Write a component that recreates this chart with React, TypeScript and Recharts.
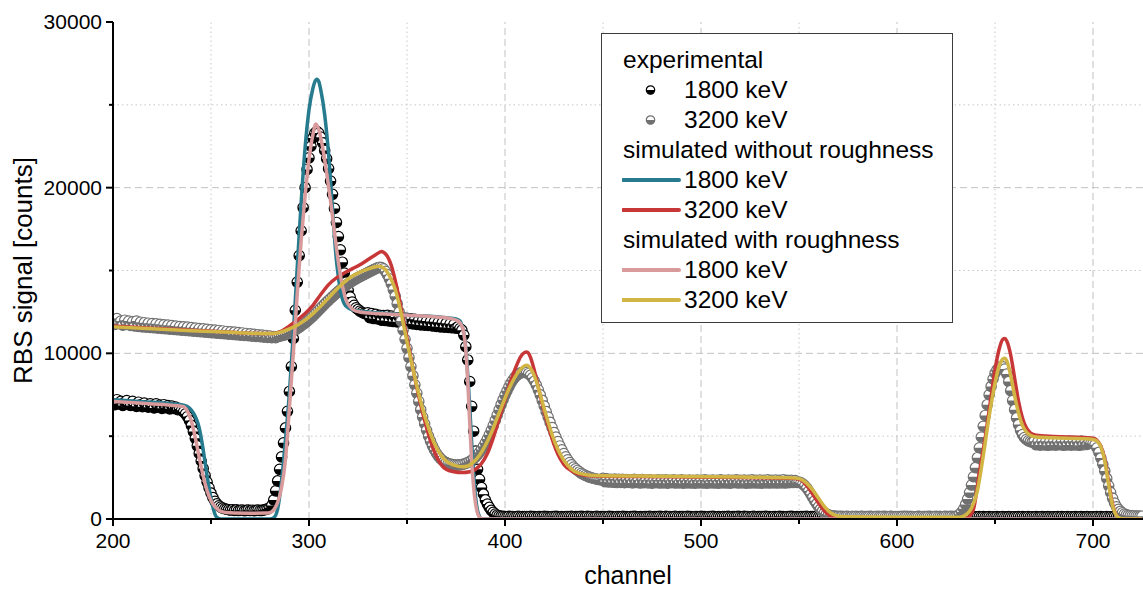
import { ComposedChart, Line, ReferenceLine, Scatter, XAxis, YAxis } from 'recharts';

const FONT = '"Liberation Sans", Arial, Helvetica, sans-serif';

// experimental spectra, one value per channel starting at channel 200
const CH_START = 200;

const EXP_1800 = [
  7150, 6900, 7200, 6950, 7100, 6850, 7050, 7150, 6900, 6850,
  7100, 6880, 6800, 7050, 6900, 6780, 7000, 6850, 6750, 6950,
  6820, 6700, 6950, 6750, 6880, 6680, 6900, 6720, 6850, 6650,
  6820, 6680, 6750, 6600, 6640, 6560, 6470, 6350, 6180, 5950,
  5650, 5280, 4870, 4420, 3960, 3500, 3050, 2620, 2230, 1880,
  1560, 1290, 1070, 910, 800, 720, 660, 620, 590, 560,
  540, 560, 520, 550, 510, 530, 540, 500, 520, 540,
  510, 530, 500, 520, 540, 510, 520, 550, 580, 610,
  680, 820, 1150, 1700, 2300, 3000, 3750, 4600, 5500, 6500,
  7700, 9200, 10900, 12600, 14300, 15900, 17400, 18800, 20000, 21100,
  21800, 22500, 23000, 23300, 23400, 23300, 23050, 22700, 22250, 21750,
  21150, 20400, 19600, 18750, 17900, 17050, 16250, 15500, 14850, 14300,
  13800, 13400, 13100, 12900, 12750, 12650, 12550, 12480, 12420, 12380,
  12450, 12150, 12400, 12100, 12350, 12080, 12300, 12000, 12280, 11980,
  12300, 11950, 12250, 11920, 12200, 11900, 12180, 11850, 12150, 11830,
  12120, 11800, 12080, 11780, 12050, 11750, 12000, 11720, 11980, 11700,
  11950, 11680, 11920, 11650, 11900, 11620, 11870, 11600, 11850, 11580,
  11820, 11560, 11780, 11540, 11750, 11520, 11600, 11500, 11400, 11100,
  10400, 9600, 8300, 6800, 5300, 4100, 3000, 2400, 1900, 1500,
  1150, 900, 700, 520, 400, 300, 230, 190, 170, 160,
  150, 140, 160, 145, 155, 135, 150, 165, 140, 150,
  145, 155, 140, 160, 150, 145, 135, 155, 150, 140,
  160, 150, 145, 140, 155, 150, 160, 145, 135, 150,
  140, 150, 155, 145, 160, 140, 150, 145, 155, 160,
  150, 140, 160, 145, 155, 135, 150, 165, 140, 150,
  145, 155, 140, 160, 150, 145, 135, 155, 150, 140,
  160, 150, 145, 140, 155, 150, 160, 145, 135, 150,
  140, 150, 155, 145, 160, 140, 150, 145, 155, 160,
  150, 140, 160, 145, 155, 135, 150, 165, 140, 150,
  145, 155, 140, 160, 150, 145, 135, 155, 150, 140,
  160, 150, 145, 140, 155, 150, 160, 145, 135, 150,
  140, 150, 155, 145, 160, 140, 150, 145, 155, 160,
  150, 140, 160, 145, 155, 135, 150, 165, 140, 150,
  145, 155, 140, 160, 150, 145, 135, 155, 150, 140,
  160, 150, 145, 140, 155, 150, 160, 145, 135, 150,
  140, 150, 155, 145, 160, 140, 150, 145, 155, 160,
  140, 130, 145, 135, 150, 130, 140, 150, 135, 140,
  135, 145, 130, 140, 150, 135, 130, 145, 140, 135,
  140, 130, 145, 135, 150, 130, 140, 150, 135, 140,
  135, 145, 130, 140, 150, 135, 130, 145, 140, 135,
  140, 130, 145, 135, 150, 130, 140, 150, 135, 140,
  135, 145, 130, 140, 150, 135, 130, 145, 140, 135,
  140, 130, 145, 135, 150, 130, 140, 150, 135, 140,
  135, 145, 130, 140, 150, 135, 130, 145, 140, 135,
  140, 130, 145, 135, 150, 130, 140, 150, 135, 140,
  135, 145, 130, 140, 150, 135, 130, 145, 140, 135,
  140, 130, 145, 135, 150, 130, 140, 150, 135, 140,
  135, 145, 130, 140, 150, 135, 130, 145, 140, 135,
  140, 130, 145, 135, 150, 130, 140, 150, 135, 140,
  135, 145, 130, 140, 150, 135, 130, 145, 140, 135,
  140, 130, 145, 135, 150, 130, 140, 150, 135, 140,
  135, 145, 130, 140, 150, 135, 130, 145, 140, 135,
  140, 130, 145, 135, 150, 130,
];

const EXP_3200 = [
  12050, 11750, 12100, 11800, 11950, 11700, 12000, 11750, 11950, 11680,
  11900, 11650, 11950, 11620, 11880, 11600, 11850, 11580, 11820, 11560,
  11800, 11540, 11780, 11520, 11750, 11500, 11720, 11480, 11700, 11460,
  11680, 11440, 11650, 11420, 11620, 11400, 11600, 11380, 11580, 11360,
  11550, 11340, 11520, 11320, 11500, 11300, 11480, 11280, 11450, 11260,
  11420, 11240, 11400, 11220, 11380, 11200, 11350, 11180, 11320, 11160,
  11300, 11140, 11280, 11120, 11250, 11100, 11230, 11080, 11200, 11060,
  11180, 11040, 11150, 11020, 11120, 11000, 11100, 10980, 11080, 10960,
  11050, 10940, 11020, 10950, 11000, 11040, 11060, 11100, 11130, 11180,
  11230, 11290, 11350, 11420, 11490, 11570, 11650, 11740, 11830, 11930,
  12030, 12140, 12250, 12370, 12490, 12610, 12730, 12850, 12970, 13090,
  13200, 13310, 13420, 13530, 13640, 13740, 13840, 13940, 14030, 14120,
  14200, 14280, 14360, 14430, 14500, 14570, 14630, 14690, 14750, 14810,
  14870, 14930, 14990, 15050, 15110, 15160, 15200, 15180, 15100, 14950,
  14750, 14500, 14200, 13850, 13450, 13000, 12500, 11950, 11400, 10850,
  10300, 9750, 9200, 8650, 8100, 7600, 7100, 6600, 6150, 5750,
  5350, 5000, 4700, 4420, 4180, 3970, 3800, 3660, 3550, 3460,
  3400, 3350, 3310, 3290, 3270, 3260, 3260, 3270, 3290, 3320,
  3360, 3410, 3470, 3550, 3640, 3750, 3880, 4030, 4200, 4390,
  4600, 4830, 5080, 5350, 5640, 5950, 6270, 6590, 6900, 7200,
  7480, 7740, 7980, 8200, 8390, 8550, 8670, 8760, 8820, 8850,
  8850, 8830, 8770, 8670, 8520, 8320, 8080, 7800, 7490, 7160,
  6820, 6480, 6150, 5830, 5520, 5220, 4940, 4670, 4410, 4170,
  3950, 3750, 3570, 3410, 3270, 3140, 3030, 2930, 2840, 2760,
  2690, 2630, 2580, 2530, 2490, 2460, 2430, 2400, 2380, 2360,
  2450, 2250, 2420, 2230, 2400, 2220, 2410, 2200, 2390, 2210,
  2400, 2190, 2380, 2210, 2370, 2180, 2390, 2200, 2360, 2170,
  2380, 2190, 2350, 2180, 2370, 2160, 2340, 2190, 2360, 2170,
  2350, 2180, 2370, 2160, 2340, 2190, 2360, 2170, 2330, 2180,
  2360, 2160, 2340, 2180, 2350, 2170, 2330, 2160, 2350, 2180,
  2340, 2170, 2360, 2160, 2330, 2180, 2350, 2170, 2340, 2160,
  2360, 2180, 2330, 2170, 2350, 2160, 2340, 2190, 2360, 2170,
  2330, 2180, 2350, 2160, 2340, 2170, 2360, 2180, 2330, 2170,
  2350, 2160, 2340, 2180, 2360, 2170, 2330, 2180, 2350, 2170,
  2340, 2180, 2360, 2170, 2330, 2190, 2340, 2200, 2320, 2210,
  2230, 2180, 2110, 2000, 1860, 1690, 1500, 1300, 1100, 910,
  740, 590, 470, 370, 300, 250, 210, 190, 175, 165,
  160, 150, 165, 145, 155, 160, 140, 155, 150, 165,
  150, 145, 160, 155, 140, 150, 165, 145, 155, 150,
  160, 140, 150, 165, 150, 145, 155, 160, 140, 150,
  155, 150, 140, 160, 150, 165, 145, 150, 155, 140,
  150, 160, 145, 155, 140, 150, 165, 150, 145, 155,
  160, 145, 150, 140, 155, 165, 150, 145, 160, 150,
  170, 200, 280, 420, 620, 880, 1200, 1600, 2050, 2550,
  3100, 3700, 4300, 4950, 5600, 6250, 6900, 7500, 8000, 8450,
  8800, 9000, 9130, 9200, 9180, 9050, 8750, 8300, 7750, 7150,
  6600, 6100, 5700, 5350, 5100, 4920, 4800, 4720, 4670, 4640,
  4700, 4480, 4680, 4460, 4700, 4470, 4690, 4450, 4680, 4470,
  4700, 4460, 4670, 4480, 4690, 4450, 4680, 4470, 4700, 4460,
  4690, 4470, 4680, 4450, 4700, 4480, 4670, 4500, 4640, 4590,
  4560, 4480, 4300, 4020, 3680, 3300, 2900, 2450, 2000, 1600,
  1250, 960, 740, 580, 460, 370, 300, 250, 220, 200,
  190, 185, 180, 175, 170, 170,
];

// simulated without roughness, 1800 keV
const SIM_NR_1800_CH = [
  200, 215, 230, 236, 239, 241, 243, 244, 245, 246, 247, 248, 249, 250, 251, 252, 253, 255, 265, 280,
  282, 284, 286, 288, 290, 292, 294, 296, 298, 300, 302, 303, 304, 305, 306, 308, 310, 311, 312, 313,
  314, 315, 316, 317, 318, 320, 323, 330, 340, 350, 360, 370, 375, 377, 378, 379, 380, 381, 382, 383,
  384, 385, 386, 387, 388, 390, 725,
];
const SIM_NR_1800 = [
  7200, 7080, 6960, 6870, 6700, 6400, 5900, 5500, 4900, 4200, 3400, 2600, 1900, 1250, 700, 300, 100, 0, 0, 0,
  80, 600, 2300, 4800, 7600, 11200, 15200, 19100, 22400, 24700, 26000, 26400, 26550, 26400, 25900, 24400, 22000, 20400, 18700, 17000,
  15600, 14600, 13800, 13300, 13000, 12750, 12600, 12500, 12400, 12300, 12250, 12150, 12080, 11950, 11700, 11200, 10300, 8700, 6800, 4600,
  2700, 1300, 500, 150, 20, 0, 0,
];

// simulated without roughness, 3200 keV
const SIM_NR_3200_CH = [
  200, 220, 240, 260, 275, 282, 286, 290, 294, 298, 302, 306, 310, 314, 318, 322, 326, 330, 334, 336,
  337, 338, 340, 342, 344, 346, 348, 350, 352, 354, 356, 358, 360, 362, 364, 366, 368, 370, 374, 378,
  382, 385, 388, 391, 394, 397, 400, 403, 406, 408, 410, 411, 412, 413, 415, 417, 419, 421, 423, 425,
  427, 430, 434, 438, 445, 480, 520, 548, 551, 554, 557, 560, 563, 566, 569, 572, 632, 636, 639, 642,
  645, 648, 650, 652, 654, 655, 656, 658, 660, 662, 664, 666, 668, 671, 680, 695, 700, 702, 704, 706,
  708, 710, 712, 714, 725,
];
const SIM_NR_3200 = [
  11650, 11520, 11400, 11280, 11200, 11200, 11350, 11650, 12000, 12400, 12900, 13550, 14150, 14550, 14850, 15100, 15350, 15650, 15950, 16100,
  16150, 16100, 15850, 15300, 14400, 13300, 12100, 10900, 9700, 8500, 7400, 6400, 5500, 4700, 4050, 3550, 3200, 3000, 2850, 2800,
  2850, 3000, 3350, 3950, 4900, 6050, 7200, 8350, 9300, 9800, 10050, 10080, 10000, 9750, 8950, 7950, 6950, 6050, 5250, 4500,
  3900, 3300, 2900, 2700, 2600, 2550, 2500, 2450, 2350, 2000, 1500, 950, 480, 180, 40, 0, 0, 80, 600, 2800,
  4900, 7400, 9000, 10200, 10850, 10900, 10750, 9900, 8500, 7100, 6100, 5500, 5200, 5050, 4980, 4920, 4880, 4750, 4400, 3600,
  2200, 900, 200, 20, 0,
];

// simulated with roughness, 1800 keV
const SIM_R_1800_CH = [
  200, 215, 230, 236, 238, 240, 242, 244, 246, 248, 250, 252, 254, 256, 258, 262, 270, 278, 280, 282,
  284, 286, 288, 290, 292, 294, 296, 298, 300, 302, 303.5, 305, 307, 309, 311, 313, 315, 317, 319, 321,
  323, 326, 335, 350, 365, 373, 376, 378, 379, 380, 381, 382, 383, 384, 385, 386, 387, 389, 725,
];
const SIM_R_1800 = [
  7100, 6980, 6870, 6780, 6500, 5900, 4900, 3700, 2600, 1700, 1100, 750, 530, 430, 390, 360, 350, 360, 380, 550,
  1000, 1900, 3600, 6700, 10000, 13600, 16800, 19500, 21700, 23200, 23850, 23500, 22400, 20900, 19200, 17300, 15500, 14100, 13200, 12800,
  12600, 12500, 12400, 12300, 12200, 12080, 11950, 11650, 11200, 10200, 8300, 5800, 3500, 1900, 900, 350, 100, 0, 0,
];

// simulated with roughness, 3200 keV
const SIM_R_3200_CH = [
  200, 220, 240, 260, 275, 282, 286, 290, 294, 298, 302, 306, 310, 314, 318, 322, 326, 330, 333, 336,
  338, 340, 342, 344, 346, 348, 350, 352, 354, 356, 358, 360, 362, 364, 366, 368, 370, 374, 378, 381,
  384, 387, 390, 393, 396, 399, 402, 405, 408, 410, 411, 412, 414, 416, 418, 420, 422, 424, 427, 430,
  434, 438, 445, 480, 520, 548, 551, 554, 557, 560, 563, 566, 569, 573, 600, 632, 635, 638, 641, 644,
  647, 650, 652, 654, 655, 656, 658, 660, 662, 664, 666, 668, 671, 680, 695, 700, 702, 704, 706, 708,
  710, 712, 714, 716, 725,
];
const SIM_R_3200 = [
  11600, 11480, 11370, 11270, 11200, 11200, 11300, 11480, 11700, 12000, 12400, 12850, 13350, 13850, 14300, 14650, 14900, 15080, 15200, 15250,
  15150, 14900, 14450, 13850, 12950, 11850, 10700, 9600, 8550, 7550, 6650, 5850, 5150, 4550, 4100, 3750, 3500, 3250, 3150, 3200,
  3450, 3850, 4450, 5200, 6100, 7000, 7850, 8550, 9050, 9250, 9280, 9230, 8900, 8300, 7500, 6650, 5850, 5100, 4200, 3550,
  3000, 2750, 2620, 2580, 2530, 2480, 2400, 2150, 1750, 1250, 750, 380, 200, 130, 100, 100, 250, 650, 1700, 3800,
  6200, 8200, 9200, 9650, 9700, 9550, 8650, 7450, 6400, 5650, 5250, 5050, 4950, 4900, 4850, 4800, 4700, 4350, 3500, 2050,
  800, 200, 30, 0, 0,
];

const X_TICKS = [200, 250, 300, 350, 400, 450, 500, 550, 600, 650, 700];
const X_MAJOR = [300, 400, 500, 600, 700];
const X_MINOR = [250, 350, 450, 550, 650];
const Y_TICKS = [0, 5000, 10000, 15000, 20000, 25000, 30000];
const Y_MAJOR = [10000, 20000];
const Y_MINOR = [5000, 15000, 25000];

const C_BLACK = '#000000';
const C_GREY = '#707070';
const C_TEAL = '#267b8f';
const C_RED = '#c83737';
const C_PINK = '#d99a9c';
const C_GOLD = '#d2b645';

const perChannel = (counts: number[]) => counts.map((y, i) => ({ x: CH_START + i, y }));
const zip = (ch: number[], vals: number[]) => ch.map((x, i) => ({ x, y: vals[i] }));

const exp1800 = perChannel(EXP_1800);
const exp3200 = perChannel(EXP_3200);
const simNr1800 = zip(SIM_NR_1800_CH, SIM_NR_1800);
const simNr3200 = zip(SIM_NR_3200_CH, SIM_NR_3200);
const simR1800 = zip(SIM_R_1800_CH, SIM_R_1800);
const simR3200 = zip(SIM_R_3200_CH, SIM_R_3200);

function HalfDot({ cx, cy, color, r = 5.2 }: { cx: number; cy: number; color: string; r?: number }) {
  return (
    <g>
      <circle cx={cx} cy={cy} r={r} fill="#fff" stroke={color} strokeWidth={1.2} />
      <path d={`M${cx - r},${cy} A${r},${r} 0 0 0 ${cx + r},${cy} Z`} fill={color} />
    </g>
  );
}

const dotShape = (color: string) => (props: any) => {
  if (props.cx == null || props.cy == null) return <g />;
  return <HalfDot cx={props.cx} cy={props.cy} color={color} />;
};

function XTick(props: any) {
  const { x, y, payload } = props;
  const major = payload.value % 100 === 0;
  return (
    <g>
      <line x1={x} y1={y} x2={x} y2={y + (major ? 7 : 5)} stroke="#000" strokeWidth={2} />
      {major && (
        <text x={x} y={y + 29} textAnchor="middle" fontSize={21} fill="#000" fontFamily={FONT}>
          {payload.value}
        </text>
      )}
    </g>
  );
}

function YTick(props: any) {
  const { x, y, payload } = props;
  const major = payload.value % 10000 === 0;
  return (
    <g>
      <line x1={x - (major ? 7 : 4)} y1={y} x2={x} y2={y} stroke="#000" strokeWidth={2} />
      {major && (
        <text x={x - 11} y={y + 7} textAnchor="end" fontSize={21} fill="#000" fontFamily={FONT}>
          {payload.value}
        </text>
      )}
    </g>
  );
}

type LegendRow =
  | { kind: 'title'; label: string }
  | { kind: 'dot'; color: string; label: string }
  | { kind: 'line'; color: string; label: string };

const LEGEND_ROWS: LegendRow[] = [
  { kind: 'title', label: 'experimental' },
  { kind: 'dot', color: C_BLACK, label: '1800 keV' },
  { kind: 'dot', color: C_GREY, label: '3200 keV' },
  { kind: 'title', label: 'simulated without roughness' },
  { kind: 'line', color: C_TEAL, label: '1800 keV' },
  { kind: 'line', color: C_RED, label: '3200 keV' },
  { kind: 'title', label: 'simulated with roughness' },
  { kind: 'line', color: C_PINK, label: '1800 keV' },
  { kind: 'line', color: C_GOLD, label: '3200 keV' },
];

function LegendBox() {
  return (
    <div
      style={{
        position: 'absolute',
        left: 601,
        top: 33,
        width: 352,
        height: 290,
        boxSizing: 'border-box',
        border: '1.5px solid #3c3c3c',
        background: '#fff',
        fontFamily: FONT,
        fontSize: 24.5,
        color: '#000',
      }}
    >
      {LEGEND_ROWS.map((row, i) => (
        <div key={i} style={{ position: 'absolute', left: 0, right: 0, top: 10.5 + i * 30, height: 30 }}>
          {row.kind !== 'title' && (
            <svg width={60} height={30} style={{ position: 'absolute', left: 20, top: 0 }}>
              {row.kind === 'line' ? (
                <line x1={1} y1={15} x2={57} y2={15} stroke={row.color} strokeWidth={4} strokeLinecap="round" />
              ) : (
                <HalfDot cx={28.5} cy={15} color={row.color} r={4.2} />
              )}
            </svg>
          )}
          <span
            style={{
              position: 'absolute',
              left: row.kind === 'title' ? 21 : 82,
              top: 0,
              lineHeight: '30px',
              whiteSpace: 'nowrap',
            }}
          >
            {row.label}
          </span>
        </div>
      ))}
    </div>
  );
}

const lineProps = {
  type: 'monotone' as const,
  dataKey: 'y',
  strokeWidth: 3.5,
  dot: false,
  activeDot: false,
  isAnimationActive: false,
};

export default function App() {
  return (
    <div style={{ position: 'absolute', left: 0, top: 0, width: 1143, height: 590, background: '#fff', fontFamily: FONT }}>
      <ComposedChart width={1143} height={590} margin={{ top: 22, right: 0, bottom: 0, left: 0 }}>
        <XAxis
          dataKey="x"
          type="number"
          domain={[200, 725.5]}
          allowDataOverflow
          ticks={X_TICKS}
          interval={0}
          height={71}
          tickSize={0}
          tickMargin={0}
          tickLine={false}
          tick={XTick}
          axisLine={{ stroke: '#000', strokeWidth: 2 }}
          label={{ value: 'channel', position: 'insideBottom', offset: 6, fontSize: 25, fill: '#000', fontFamily: FONT }}
        />
        <YAxis
          type="number"
          domain={[0, 30000]}
          allowDataOverflow
          ticks={Y_TICKS}
          interval={0}
          width={113}
          tickSize={0}
          tickMargin={0}
          tickLine={false}
          tick={YTick}
          axisLine={{ stroke: '#000', strokeWidth: 2 }}
          label={{
            value: 'RBS signal [counts]',
            angle: -90,
            position: 'insideLeft',
            offset: 23,
            fontSize: 26,
            fill: '#000',
            fontFamily: FONT,
            style: { textAnchor: 'middle' },
          }}
        />
        {X_MINOR.map((v) => (
          <ReferenceLine key={`xm${v}`} x={v} stroke="#c8c8c8" strokeDasharray="1.5 3" zIndex={-100} />
        ))}
        {Y_MINOR.map((v) => (
          <ReferenceLine key={`ym${v}`} y={v} stroke="#c8c8c8" strokeDasharray="1.5 3" zIndex={-100} />
        ))}
        {X_MAJOR.map((v) => (
          <ReferenceLine key={`xM${v}`} x={v} stroke="#c2c2c2" strokeDasharray="7 4" zIndex={-100} />
        ))}
        {Y_MAJOR.map((v) => (
          <ReferenceLine key={`yM${v}`} y={v} stroke="#c2c2c2" strokeDasharray="7 4" zIndex={-100} />
        ))}
        <Scatter data={exp1800} dataKey="y" shape={dotShape(C_BLACK)} isAnimationActive={false} zIndex={300} />
        <Scatter data={exp3200} dataKey="y" shape={dotShape(C_GREY)} isAnimationActive={false} zIndex={300} />
        <Line data={simNr1800} stroke={C_TEAL} {...lineProps} />
        <Line data={simNr3200} stroke={C_RED} {...lineProps} />
        <Line data={simR1800} stroke={C_PINK} {...lineProps} />
        <Line data={simR3200} stroke={C_GOLD} {...lineProps} />
      </ComposedChart>
      <LegendBox />
    </div>
  );
}
